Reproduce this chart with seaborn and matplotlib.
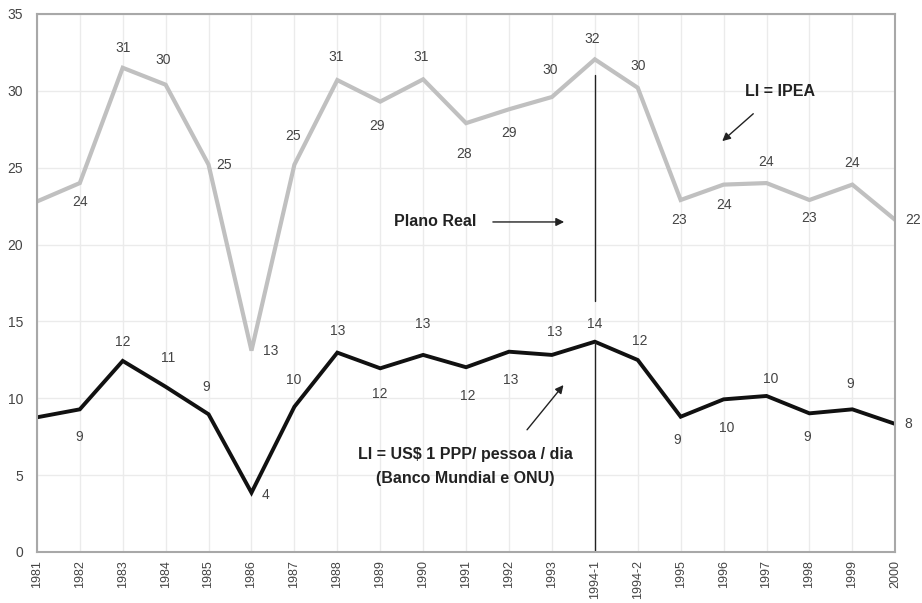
import matplotlib
matplotlib.use("Agg")
import matplotlib.pyplot as plt
import seaborn as sns
import pandas as pd

categories = ["1981", "1982", "1983", "1984", "1985", "1986", "1987", "1988", "1989",
              "1990", "1991", "1992", "1993", "1994-1", "1994-2", "1995", "1996",
              "1997", "1998", "1999", "2000"]
ipea = [22.8, 24.0, 31.5, 30.4, 25.2, 13.1, 25.2, 30.7, 29.3, 30.75, 27.9, 28.8, 29.6,
        32.05, 30.2, 22.9, 23.9, 24.0, 22.9, 23.9, 21.6]
usd1 = [8.76, 9.28, 12.43, 10.75, 8.96, 3.86, 9.45, 12.97, 11.95, 12.82, 12.02, 13.03,
        12.82, 13.68, 12.49, 8.8, 9.93, 10.15, 9.02, 9.28, 8.33]
ipea_labels = [None, 24, 31, 30, 25, 13, 25, 31, 29, 31, 28, 29, 30, 32, 30, 23, 24, 24, 23, 24, 22]
usd1_labels = [None, 9, 12, 11, 9, 4, 10, 13, 12, 13, 12, 13, 13, 14, 12, 9, 10, 10, 9, 9, 8]

# label offsets in pixels (style)
ipea_off = [(0, 0), (0, -19), (0, 20), (-2, 25), (16, 0), (19, 0), (-1, 29), (-1, 23),
            (-3, -24), (-2, 22), (-2, -31), (0, -24), (-2, 27), (-3, 20), (0, 22),
            (-2, -20), (0, -20), (0, 21), (0, -18), (0, 22), (18, 0)]
usd1_off = [(0, 0), (-1, -28), (0, 19), (2, 29), (-2, 27), (14, -2), (-1, 27), (0, 22),
            (0, -26), (0, 31), (2, -29), (2, -28), (3, 23), (0, 18), (2, 19),
            (-3, -23), (3, -29), (4, 17), (-2, -24), (-2, 25), (13, 0)]

sns.set_theme(style="white")
FONT = ["Liberation Sans", "DejaVu Sans"]
plt.rcParams["font.family"] = FONT

df = pd.DataFrame({"ano": categories, "ipea": ipea, "usd1": usd1})
df["pos"] = range(len(categories))

fig = plt.figure(figsize=(9.22, 6.03), dpi=100)
ax = fig.add_axes([0.040, 0.0846, 0.931, 0.8922])

ax.set_axisbelow(True)
ax.grid(True, color="#ebebeb", linewidth=1.0)

sns.lineplot(data=df, x="pos", y="ipea", color="#c0c0c0", linewidth=3.0, ax=ax,
             sort=False, solid_joinstyle="miter")
sns.lineplot(data=df, x="pos", y="usd1", color="#111111", linewidth=2.8, ax=ax,
             sort=False, solid_joinstyle="miter")

ax.set_xlim(0, len(categories) - 1)
ax.set_ylim(0, 35)
ax.set_xticks(range(len(categories)))
ax.set_xticklabels(categories, rotation=90, fontsize=9, color="#444444")
ax.set_yticks(range(0, 36, 5))
ax.set_yticklabels([str(v) for v in range(0, 36, 5)], fontsize=10, color="#444444")
ax.tick_params(axis="x", length=0, pad=6)
ax.tick_params(axis="y", length=0, pad=10)
ax.set_xlabel("")
ax.set_ylabel("")
for s in ax.spines.values():
    s.set_color("#a8a8a8")
    s.set_linewidth(1.5)

for i, (v, lab) in enumerate(zip(ipea, ipea_labels)):
    if lab is None:
        continue
    ax.annotate(str(lab), (i, v), xytext=ipea_off[i], textcoords="offset pixels",
                ha="center", va="center", fontsize=10, color="#444444")
for i, (v, lab) in enumerate(zip(usd1, usd1_labels)):
    if lab is None:
        continue
    ax.annotate(str(lab), (i, v), xytext=usd1_off[i], textcoords="offset pixels",
                ha="center", va="center", fontsize=10, color="#444444")

# Plano Real vertical line at 1994-1
xi = categories.index("1994-1")
ax.plot([xi, xi], [16.3, 31.0], color="#222222", linewidth=1.0)
ax.plot([xi, xi], [0, usd1[xi]], color="#222222", linewidth=1.0)

arrow = dict(arrowstyle="-|>", color="#222222", lw=1.0, mutation_scale=12)
ax.text(9.28, 21.47, "Plano Real", ha="center", va="center", fontsize=11.5,
        fontweight="bold", color="#222222")
ax.annotate("", xy=(12.35, 21.47), xytext=(10.56, 21.47), arrowprops=arrow)

ax.text(17.32, 29.93, "LI = IPEA", ha="center", va="center", fontsize=11.5,
        fontweight="bold", color="#222222")
ax.annotate("", xy=(15.92, 26.61), xytext=(16.74, 28.63), arrowprops=arrow)

ax.text(9.98, 6.31, "LI = US$ 1 PPP/ pessoa / dia", ha="center", va="center",
        fontsize=11.5, fontweight="bold", color="#222222")
ax.text(9.98, 4.81, "(Banco Mundial e ONU)", ha="center", va="center",
        fontsize=11.5, fontweight="bold", color="#222222")
ax.annotate("", xy=(12.31, 11.0), xytext=(11.38, 7.81), arrowprops=arrow)

fig.savefig("out.png", dpi=100)
